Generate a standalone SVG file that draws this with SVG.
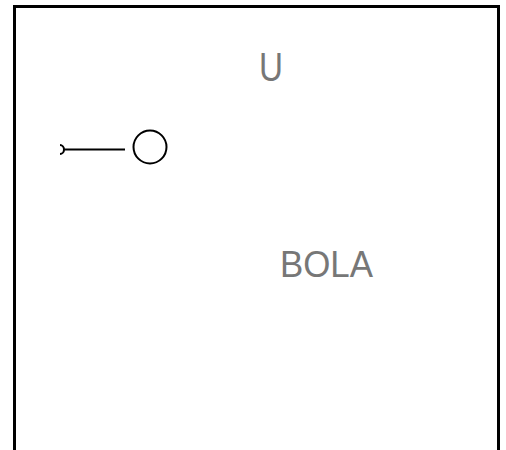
<svg xmlns="http://www.w3.org/2000/svg" width="506" height="450" viewBox="0 0 506 450">
<style>
.frame{fill:none;stroke:#000;stroke-width:3}
.lbl{font-family:"Liberation Sans",Arial,sans-serif;fill:#777}
.edge{fill:none;stroke:#000;stroke-width:2}
.node{fill:#fff;stroke:#000;stroke-width:2}
</style>
<rect width="506" height="450" fill="#fff"/>
<path class="frame" d="M14.5,450 V6.5 H498.5 V450"/>
<g id="label-U"><text class="lbl" x="259" y="81" font-size="40" textLength="24" lengthAdjust="spacingAndGlyphs">U</text></g>
<g id="label-BOLA"><text class="lbl" x="280" y="277" font-size="36" textLength="93" lengthAdjust="spacingAndGlyphs">BOLA</text></g>
<g id="node-ball"><circle class="node" cx="150" cy="147" r="16.5"/></g>
<g id="connectors">
<line class="edge" x1="63" y1="149.5" x2="125" y2="149.5"/>
<path class="edge" d="M60,145 A4,4.5 0 0 1 60,154"/>
</g>
</svg>
